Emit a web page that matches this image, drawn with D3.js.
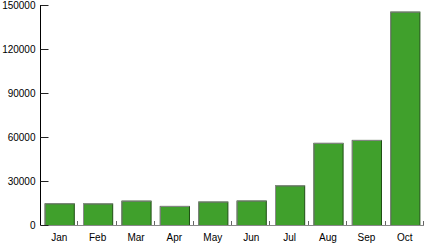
<!DOCTYPE html>
<html>
<head>
<meta charset="utf-8">
<script src="https://cdn.jsdelivr.net/npm/d3@7"></script>
<style>
  body { margin: 0; background: #fff; }
  text { font-family: "Liberation Sans", Arial, sans-serif; font-size: 10px; fill: #000; }
</style>
</head>
<body>
<div class="chart-holder"></div>
<script>
const months = ['Jan', 'Feb', 'Mar', 'Apr', 'May', 'Jun', 'Jul', 'Aug', 'Sep', 'Oct'];
const values = [14800, 14700, 16600, 13000, 16000, 16700, 27000, 56000, 58000, 145500];
const yTicks = [0, 30000, 60000, 90000, 120000, 150000];

const width = 424, height = 246;
const margin = {top: 5, right: 0, bottom: 21, left: 40};
const w = width - margin.left - margin.right;
const h = height - margin.top - margin.bottom;

const svg = d3.select('.chart-holder')
  .append('svg')
  .attr('width', width)
  .attr('height', height);

const g = svg.append('g')
  .attr('transform', `translate(${margin.left},${margin.top})`);

const xScale = d3.scaleBand()
  .domain(months)
  .range([0, w])
  .paddingInner(0.24)
  .paddingOuter(0.12);

const yScale = d3.scaleLinear()
  .domain([0, 150000])
  .range([h, 0]);

// bars
const bars = g.selectAll('.bar')
  .data(months)
  .enter().append('g')
  .attr('class', 'bar');

bars.append('rect')
  .attr('x', d => xScale(d) + 0.5)
  .attr('y', (d, i) => yScale(values[i]) + 0.5)
  .attr('width', xScale.bandwidth())
  .attr('height', (d, i) => h - yScale(values[i]))
  .attr('fill', '#40a02c')
  .attr('stroke', '#1f4f14')
  .attr('stroke-width', 1);

// lighter top / left edge
bars.append('path')
  .attr('d', (d, i) => {
    const x0 = xScale(d) + 0.5, y0 = yScale(values[i]) + 0.5;
    return `M${x0},${h}V${y0}H${x0 + xScale.bandwidth()}`;
  })
  .attr('fill', 'none')
  .attr('stroke', '#8a8a8a');

// x axis baseline + boundary ticks
const step = xScale.step();
g.append('line')
  .attr('x1', 0).attr('x2', w)
  .attr('y1', h + 0.5).attr('y2', h + 0.5)
  .attr('stroke', '#888');

g.selectAll('.xtick')
  .data(months)
  .enter().append('line')
  .attr('class', 'xtick')
  .attr('x1', d => Math.round(xScale(d) - step * 0.12 + step) - 0.5)
  .attr('x2', d => Math.round(xScale(d) - step * 0.12 + step) - 0.5)
  .attr('y1', h)
  .attr('y2', h - 4)
  .attr('stroke', '#666');

g.selectAll('.xlabel')
  .data(months)
  .enter().append('text')
  .attr('x', d => xScale(d) + xScale.bandwidth() / 2)
  .attr('y', h + 16)
  .attr('text-anchor', 'middle')
  .text(d => d);

// y axis
const yAxis = g.append('g')
  .attr('transform', 'translate(0.5,0)')
  .call(d3.axisRight(yScale).tickValues(yTicks).tickSize(8).tickFormat(d3.format('d')));
yAxis.select('.domain').attr('d', `M0,0V${h}`).attr('stroke', '#000');
yAxis.selectAll('.tick line').attr('stroke', '#222');
yAxis.selectAll('.tick text')
  .attr('x', -5)
  .attr('text-anchor', 'end')
  .style('font-family', '"Liberation Sans", Arial, sans-serif')
  .style('font-size', '10px');
</script>
</body>
</html>
